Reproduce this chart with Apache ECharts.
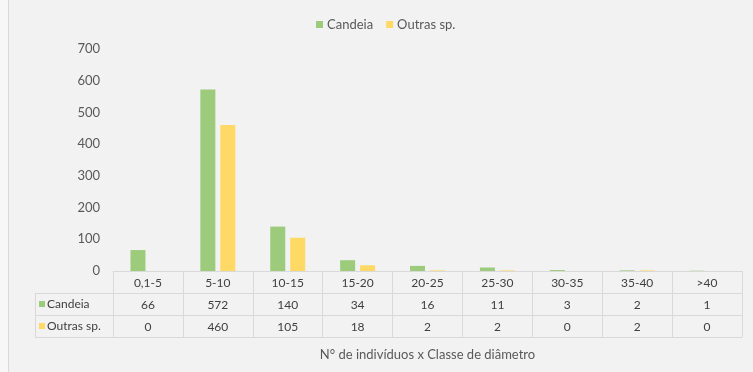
<!DOCTYPE html>
<html>
<head>
<meta charset="utf-8">
<script src="https://cdn.jsdelivr.net/npm/echarts@6/dist/echarts.min.js"></script>
<style>
  html, body { margin: 0; padding: 0; background: #f7f7f7; }
  #frame { position: absolute; left: 8px; top: 0; width: 760px; height: 372px;
           background: #f2f2f2; border-left: 1px solid #d9d9d9; }
  #chart { position: absolute; left: -9px; top: 0; width: 753px; height: 372px; }
</style>
</head>
<body>
<div id="frame"><div id="chart"></div></div>
<script>
// Diameter classes (cm) and number of individuals per class
const classes = ['0,1-5', '5-10', '10-15', '15-20', '20-25', '25-30', '30-35', '35-40', '>40'];
const seriesNames = ['Candeia', 'Outras sp.'];
const candeia = [66, 572, 140, 34, 16, 11, 3, 2, 1];
const outras = [0, 460, 105, 18, 2, 2, 0, 2, 0];
const yTicks = { min: 0, max: 700, interval: 100 };
const axisTitle = 'N° de indivíduos x Classe de diâmetro';

const colors = ['#9bcb7b', '#ffd966'];
const textColor = '#595959';
const lineColor = '#d9d9d9';
const font = 'Lato, "Open Sans", sans-serif';

const gridLeft = 113, gridRight = 11, gridTop = 49, gridBottom = 101;
const rowH = 22;

// One category axis per table row: header, Candeia, Outras sp., closing line
function tableAxis(data, offset, extra) {
  return Object.assign({
    type: 'category',
    gridIndex: 0,
    position: 'bottom',
    offset: offset,
    data: data,
    axisLine: { show: true, lineStyle: { color: lineColor, width: 1 } },
    axisTick: { show: true, interval: 0, length: rowH, lineStyle: { color: lineColor } },
    axisLabel: { interval: 0, margin: 6, color: '#404040', fontSize: 12, fontFamily: font },
    splitLine: { show: false }
  }, extra || {});
}

const chart = echarts.init(document.getElementById('chart'));
chart.setOption({
  backgroundColor: 'transparent',
  animation: false,
  color: colors,
  legend: {
    top: 13,
    left: 311,
    itemWidth: 7,
    itemHeight: 7,
    itemGap: 13,
    icon: 'rect',
    textStyle: { color: textColor, fontSize: 13, fontFamily: font, padding: [0, 0, 0, -1] },
    data: seriesNames
  },
  grid: { left: gridLeft, right: gridRight, top: gridTop, bottom: gridBottom, containLabel: false },
  xAxis: [
    tableAxis(classes, 0),
    tableAxis(candeia.map(String), rowH),
    tableAxis(outras.map(String), rowH * 2),
    tableAxis(classes.map(() => ''), rowH * 3, {
      axisTick: { show: false },
      axisLabel: { show: false },
      name: axisTitle,
      nameLocation: 'middle',
      nameGap: 11,
      nameTextStyle: { color: textColor, fontSize: 13, fontFamily: font }
    })
  ],
  yAxis: {
    type: 'value',
    min: yTicks.min,
    max: yTicks.max,
    interval: yTicks.interval,
    axisLine: { show: false },
    axisTick: { show: false },
    splitLine: { show: false },
    axisLabel: { color: textColor, fontSize: 13, fontFamily: font, margin: 13 }
  },
  series: [
    { name: seriesNames[0], type: 'bar', xAxisIndex: 0, data: candeia, barWidth: 15, barGap: '33%' },
    { name: seriesNames[1], type: 'bar', xAxisIndex: 0, data: outras, barWidth: 15, barGap: '33%' }
  ]
});

// Row-label column of the data table, placed against the grid's left edge
const zeroY = chart.convertToPixel({ yAxisIndex: 0 }, 0);
const colLeft = 35;
const rows = [seriesNames[0], seriesNames[1]];
const graphics = [];
[1, 2, 3].forEach(i => {
  graphics.push({ type: 'line', shape: { x1: colLeft, y1: zeroY + rowH * i + 0.5, x2: gridLeft, y2: zeroY + rowH * i + 0.5 },
                  style: { stroke: lineColor, lineWidth: 1 } });
});
graphics.push({ type: 'line', shape: { x1: colLeft + 0.5, y1: zeroY + rowH, x2: colLeft + 0.5, y2: zeroY + rowH * 3 },
                style: { stroke: lineColor, lineWidth: 1 } });
rows.forEach((name, i) => {
  const cy = zeroY + rowH * (i + 1) + rowH / 2;
  graphics.push({ type: 'rect', shape: { x: 39, y: cy - 3, width: 6, height: 6 }, style: { fill: colors[i] } });
  graphics.push({ type: 'text', x: 47, y: cy, style: { text: name, fill: '#404040', font: '12px ' + font, textVerticalAlign: 'middle' } });
});
chart.setOption({ graphic: graphics });
</script>
</body>
</html>
